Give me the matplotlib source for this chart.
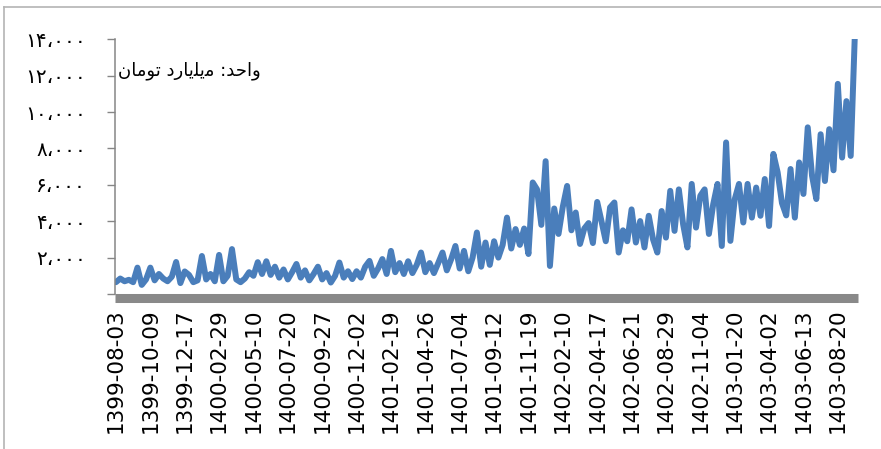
import matplotlib
matplotlib.use("Agg")
import matplotlib.pyplot as plt
from matplotlib.lines import Line2D

# Data (every 8th point carries a date label)
values = [
    650, 850, 700, 780, 650, 1450, 500, 800, 1450, 750,
    1100, 850, 700, 950, 1760, 600, 1240, 1050, 650, 750,
    2090, 800, 1100, 700, 2150, 700, 1000, 2470, 800, 650,
    850, 1200, 1000, 1750, 1100, 1800, 1050, 1500, 900, 1350,
    800, 1200, 1650, 900, 1300, 750, 1100, 1500, 800, 1150,
    630, 1000, 1730, 900, 1250, 820, 1250, 900, 1500, 1820,
    1000, 1400, 1920, 1100, 2370, 1200, 1700, 1100, 1800, 1150,
    1600, 2280, 1200, 1700, 1150, 1700, 2280, 1300, 1900, 2640,
    1400, 2370, 1250, 2000, 3380, 1500, 2830, 1600, 2900, 2000,
    2700, 4200, 2500, 3570, 2700, 3600, 2200, 6130, 5750, 3800,
    7300, 1540, 4700, 3300, 4800, 5940, 3500, 4480, 2750, 3600,
    3900, 2800, 5060, 4000, 2900, 4760, 5030, 2280, 3500, 2900,
    4650, 2830, 4010, 2560, 4300, 3000, 2280, 4560, 3100, 5670,
    3470, 5750, 3830, 2560, 6050, 3650, 5400, 5750, 3300, 4930,
    6050, 2640, 8330, 2920, 5200, 6050, 3930, 6050, 4200, 5850,
    4300, 6320, 3740, 7700, 6680, 5000, 4320, 6870, 4200, 7230,
    5500, 9160, 6500, 5220, 8780, 6210, 9060, 6800, 11550, 7500,
    10600, 7590, 14500,
]
date_labels = [
    "1399-08-03", "1399-10-09", "1399-12-17", "1400-02-29", "1400-05-10",
    "1400-07-20", "1400-09-27", "1400-12-02", "1401-02-19", "1401-04-26",
    "1401-07-04", "1401-09-12", "1401-11-19", "1402-02-10", "1402-04-17",
    "1402-06-21", "1402-08-29", "1402-11-04", "1403-01-20", "1403-04-02",
    "1403-06-13", "1403-08-20",
]
label_step = 8
y_ticks = [0, 2000, 4000, 6000, 8000, 10000, 12000, 14000]

# unit note, written in visual (left-to-right) order with shaped forms
unit_text = "\uFEE5\uFE8E\uFEE3\uFEEE\uFE97 \uFEA9\uFEAD\uFE8E\uFBFE\uFEE0\uFBFE\uFEE3 :\uFEAA\uFEA3\uFE8D\uFEED"

def persian_num(v):
    if v == 0:
        return ""
    s = f"{v:,}"
    return s.translate(str.maketrans("0123456789,", "۰۱۲۳۴۵۶۷۸۹،"))

fig = plt.figure(figsize=(8.81, 4.49), dpi=100)
ax = fig.add_axes([0.1305, 0.3452, 0.8434, 0.5673])

x = list(range(len(values)))
ax.plot(x, values, color="#4a7ebb", lw=4.3, solid_joinstyle="round", solid_capstyle="round")

ax.set_ylim(0, 14000)
ax.set_xlim(-0.23, 172.7)

ax.tick_params(axis="y", direction="out", length=5.5, width=1, color="#868686",
               pad=15.4, labelsize=14.5)
ax.tick_params(axis="x", length=0, pad=7, labelrotation=90, labelsize=15.5)

ax.set_yticks(y_ticks)
ax.set_yticklabels([persian_num(v) for v in y_ticks])
tick_pos = [i * label_step for i in range(len(date_labels))]
ax.set_xticks(tick_pos)
ax.set_xticklabels(date_labels)

for side in ["top", "right"]:
    ax.spines[side].set_visible(False)
ax.spines["left"].set_color("#868686")
ax.spines["left"].set_linewidth(1.1)
ax.spines["bottom"].set_color("#898989")
ax.spines["bottom"].set_linewidth(6.5)
ax.spines["bottom"].set_position(("outward", 3.2))
ax.spines["bottom"].set_capstyle("butt")

ax.text(0.004, 0.875, unit_text, transform=ax.transAxes, fontsize=13,
        family="DejaVu Sans", ha="left", va="center")

# chart-area border (top and left edges visible)
fig.add_artist(Line2D([4 / 881, 4 / 881], [0, 1 - 6.5 / 449], color="#b4b4b4", lw=1.2))
fig.add_artist(Line2D([4 / 881, 1], [1 - 6.5 / 449, 1 - 6.5 / 449], color="#b4b4b4", lw=1.2))

fig.savefig("out.png", dpi=100)
